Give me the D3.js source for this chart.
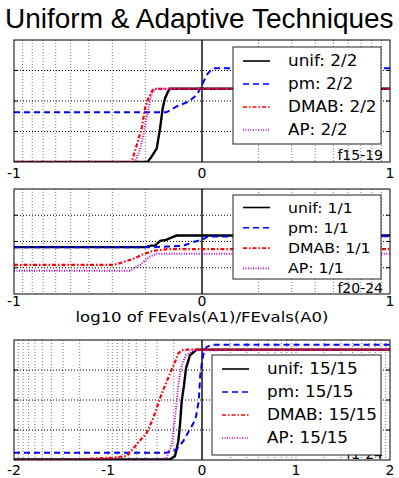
<!DOCTYPE html>
<html>
<head>
<meta charset="utf-8">
<script src="https://cdn.jsdelivr.net/npm/d3@7"></script>
<style>
  body { margin:0; background:#fff; }
  text { font-family: 'DejaVu Sans', sans-serif; fill:#000; }
</style>
</head>
<body>
<svg id="chart" width="399" height="478"></svg>
<script>
// ---- data ----
var title = 'Uniform & Adaptive Techniques';
var xLabel = 'log10 of FEvals(A1)/FEvals(A0)';
var seriesNames = ['unif','pm','DMAB','AP'];

// f15-19
var f15Legend = ['unif: 2/2','pm: 2/2','DMAB: 2/2','AP: 2/2'];
var f15Ticks = [-1,0,1];
var f15Unif = [[-1,0],[-0.29,0],[-0.27,0.04],[-0.241,0.11],[-0.223,0.276],[-0.209,0.44],[-0.197,0.52],[-0.18,0.58],[-0.17,0.6],[1,0.6]];
var f15Pm = [[-1,0.407],[-0.19,0.407],[-0.135,0.455],[-0.073,0.494],[-0.028,0.549],[0,0.631],[0.025,0.713],[0.052,0.762],[0.07,0.768],[1,0.768]];
var f15Dmab = [[-1,0],[-0.374,0],[-0.347,0.14],[-0.321,0.276],[-0.303,0.44],[-0.286,0.52],[-0.259,0.6],[1,0.6]];
var f15Ap = [[-1,0],[-0.356,0],[-0.33,0.1],[-0.312,0.22],[-0.29,0.4],[-0.268,0.563],[-0.245,0.6],[1,0.6]];

// f20-24
var f20Legend = ['unif: 1/1','pm: 1/1','DMAB: 1/1','AP: 1/1'];
var f20Ticks = [-1,0,1];
var f20Unif = [[-1,0.446],[-0.303,0.446],[-0.27,0.461],[-0.25,0.461],[-0.223,0.506],[-0.19,0.515],[-0.17,0.532],[-0.135,0.557],[1,0.557]];
var f20Pm = [[-1,0.446],[-0.26,0.446],[-0.188,0.452],[-0.1,0.459],[-0.05,0.494],[0,0.516],[0.03,0.547],[1,0.55]];
var f20Dmab = [[-1,0.278],[-0.47,0.278],[-0.436,0.294],[-0.365,0.335],[-0.312,0.38],[-0.259,0.411],[-0.188,0.427],[1,0.427]];
var f20Ap = [[-1,0.221],[-0.383,0.221],[-0.33,0.278],[-0.277,0.357],[-0.241,0.383],[1,0.383]];

// f1-24
var f1Legend = ['unif: 15/15','pm: 15/15','DMAB: 15/15','AP: 15/15'];
var f1Ticks = [-2,-1,0,1,2];
var f1Unif = [[-2,0.005],[-0.34,0.005],[-0.287,0.033],[-0.252,0.157],[-0.234,0.295],[-0.216,0.488],[-0.191,0.626],[-0.17,0.764],[-0.128,0.873],[-0.057,0.92],[2,0.92]];
var f1Pm = [[-2,0.06],[-0.377,0.06],[-0.27,0.088],[-0.2,0.157],[-0.14,0.24],[-0.07,0.336],[-0.035,0.488],[-0.018,0.708],[0,0.818],[0.024,0.915],[0.05,0.942],[0.1,0.96],[2,0.96]];
var f1Dmab = [[-2,0],[-1.35,0],[-1.2,0.01],[-0.95,0.02],[-0.8,0.033],[-0.695,0.13],[-0.588,0.226],[-0.518,0.35],[-0.447,0.515],[-0.39,0.626],[-0.34,0.722],[-0.287,0.818],[-0.252,0.888],[-0.216,0.915],[-0.146,0.92],[2,0.92]];
var f1Ap = [[-2,0],[-0.45,0],[-0.377,0.02],[-0.323,0.13],[-0.287,0.35],[-0.252,0.626],[-0.216,0.79],[-0.17,0.873],[-0.093,0.915],[2,0.92]];

var yGrid = [0.25,0.5,0.75];

// ---- styles ----
var colors = {unif:'#000000', pm:'#0000ff', DMAB:'#ff0000', AP:'#c000c0'};
var dashes = {unif:null, pm:'6,4', DMAB:'4,2,1.5,2', AP:'1,1.5'};
var widths = {unif:2.4, pm:2, DMAB:2.2, AP:2};

var svg = d3.select('#chart');

svg.append('text')
    .attr('x', 5)
    .attr('y', 28)
    .attr('font-size', 28)
    .style('font-family', "'Liberation Sans', sans-serif")
    .text(title);

function stretch(sel, f){
    sel.each(function(){
        var w = this.getComputedTextLength();
        d3.select(this).attr('textLength', w*f).attr('lengthAdjust','spacingAndGlyphs');
    });
}

function drawPanel(p){
    var g = svg.append('g');
    var x = d3.scaleLinear().domain(p.domain).range([14,390]);
    var y = d3.scaleLinear().domain([0,1]).range([p.bottom,p.top]);

    var clipId = 'clip'+p.name;
    g.append('clipPath').attr('id',clipId)
        .append('rect')
        .attr('x',14).attr('y',p.top)
        .attr('width',376).attr('height',p.bottom-p.top);

    // vertical minor grid (log-spaced per decade)
    var vg = [];
    for(var d = p.domain[0]; d < p.domain[1]; d++){
        for(var k = 2; k <= 9; k++){
            if(d < 0) vg.push(d + 1 - Math.log10(k));
            else vg.push(d + Math.log10(k));
        }
        if(d > p.domain[0]) vg.push(d);
    }
    g.selectAll('.vgrid')
        .data(vg.filter(v => v !== 0))
        .join('line')
        .attr('class','vgrid')
        .attr('x1',d => x(d)).attr('x2',d => x(d))
        .attr('y1',p.top).attr('y2',p.bottom)
        .attr('stroke','#555')
        .attr('stroke-width',0.8)
        .attr('stroke-dasharray','1,2');

    g.selectAll('.hgrid')
        .data(yGrid)
        .join('line')
        .attr('class','hgrid')
        .attr('x1',14).attr('x2',390)
        .attr('y1',d => y(d)).attr('y2',d => y(d))
        .attr('stroke','#000')
        .attr('stroke-width',1)
        .attr('stroke-dasharray','1,2');

    // y ticks (inward, both sides)
    g.selectAll('.ytl')
        .data(yGrid)
        .join('line')
        .attr('class','ytl')
        .attr('x1',14).attr('x2',18)
        .attr('y1',d => y(d)).attr('y2',d => y(d))
        .attr('stroke','#000');
    g.selectAll('.ytr')
        .data(yGrid)
        .join('line')
        .attr('class','ytr')
        .attr('x1',386).attr('x2',390)
        .attr('y1',d => y(d)).attr('y2',d => y(d))
        .attr('stroke','#000');

    // zero line
    g.append('line')
        .attr('x1',x(0)).attr('x2',x(0))
        .attr('y1',p.top).attr('y2',p.bottom)
        .attr('stroke','#111')
        .attr('stroke-width',1.5);

    var line = d3.line().x(d => x(d[0])).y(d => y(d[1]));
    var lines = g.append('g').attr('clip-path','url(#'+clipId+')');
    seriesNames.forEach(function(s,i){
        lines.append('path')
            .datum(p.data[i])
            .attr('d',line)
            .attr('fill','none')
            .attr('stroke',colors[s])
            .attr('stroke-width',widths[s])
            .attr('stroke-dasharray',dashes[s]);
    });

    // frame
    g.append('rect')
        .attr('x',14).attr('y',p.top)
        .attr('width',376).attr('height',p.bottom-p.top)
        .attr('fill','none')
        .attr('stroke','#000')
        .attr('stroke-width',1);

    // tick labels
    g.selectAll('.xtl')
        .data(p.ticks)
        .join('text')
        .attr('class','xtl')
        .attr('x',d => x(d))
        .attr('y',p.ty)
        .attr('text-anchor','middle')
        .attr('font-size',14)
        .text(d => d);

    g.append('text')
        .attr('x',383).attr('y',p.fy)
        .attr('text-anchor','end')
        .attr('font-size',14)
        .text(p.name);

    // legend
    var lg = g.append('g');
    lg.append('rect')
        .attr('x',p.leg.x).attr('y',p.leg.y)
        .attr('width',381-p.leg.x).attr('height',p.leg.h)
        .attr('fill','#fff')
        .attr('stroke','#222')
        .attr('stroke-width',1);
    seriesNames.forEach(function(s,i){
        var ly = p.leg.y + p.leg.first + i*p.leg.step;
        lg.append('line')
            .attr('x1',p.leg.x+10).attr('x2',p.leg.x+37)
            .attr('y1',ly).attr('y2',ly)
            .attr('stroke',colors[s])
            .attr('stroke-width',1.6)
            .attr('stroke-dasharray',dashes[s]);
        lg.append('text')
            .attr('x',p.leg.x+55).attr('y',ly+5)
            .attr('font-size',p.leg.fs)
            .text(p.legend[i])
            .call(stretch,1.12);
    });
}

drawPanel({name:'f15-19', domain:[-1,1], top:40, bottom:162, fy:160, ty:178, ticks:f15Ticks,
    data:[f15Unif,f15Pm,f15Dmab,f15Ap], legend:f15Legend,
    leg:{x:233, y:47, h:97, first:14, step:23, fs:15}});
drawPanel({name:'f20-24', domain:[-1,1], top:189, bottom:294, fy:293, ty:305.5, ticks:f20Ticks,
    data:[f20Unif,f20Pm,f20Dmab,f20Ap], legend:f20Legend,
    leg:{x:233, y:195, h:84, first:12.5, step:20.3, fs:14}});
drawPanel({name:'f1-24', domain:[-2,2], top:340, bottom:460, fy:459, ty:475, ticks:f1Ticks,
    data:[f1Unif,f1Pm,f1Dmab,f1Ap], legend:f1Legend,
    leg:{x:212, y:355, h:100, first:14, step:23, fs:15}});

svg.append('text')
    .attr('x',202).attr('y',322)
    .attr('text-anchor','middle')
    .attr('font-size',13.5)
    .text(xLabel)
    .call(stretch,1.22);
</script>
</body>
</html>
